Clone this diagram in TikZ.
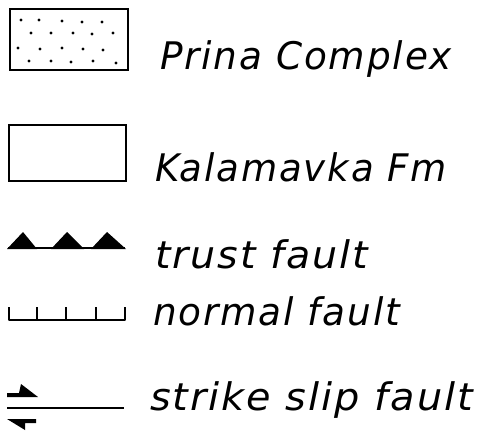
\documentclass[tikz,border=0pt]{standalone}
\usepackage{fontspec}
\usepackage{graphicx}
\setmainfont{DejaVu Sans}[LetterSpace=5]
\newcommand{\legtext}[2]{\resizebox{#1pt}{\height}{\fontsize{38}{40}\selectfont\itshape #2}}
\tikzset{
  frame/.style={draw, line width=1.9pt},
  fault/.style={line width=2pt},
  label/.style={anchor=base west, inner sep=0pt, outer sep=0pt},
  grain/.style={fill, circle, inner sep=0pt, minimum size=3.3pt}
}
\begin{document}
\begin{tikzpicture}[x=1pt, y=-1pt]
\useasboundingbox (0,0) rectangle (486,430);

% Prina Complex: dotted box
\draw[frame] (10,9) rectangle (128,70);
\foreach \px/\py in {21/20, 39/20, 62/21, 82/22, 102/22,
                     31/33, 51/33, 73/33, 92/34, 113/33,
                     18/48, 40/49, 62/48, 83/49, 103/50,
                     29/61, 51/61, 71/62, 93/61, 116/63}
  \node[grain] at (\px,\py) {};
\node[label] (prina) at (160,70) {\legtext{292}{Prina Complex}};

% Kalamavka Fm: empty box
\draw[frame] (9,125) rectangle (126,181);
\node[label] (kalam) at (155,182) {\legtext{292}{Kalamavka Fm}};

% thrust fault: line with teeth
\draw[fault] (8,248) -- (125,248);
\fill (7,249) -- (23,232) -- (37,249) -- cycle;
\fill (51,249) -- (67,232) -- (84,249) -- cycle;
\fill (91,249) -- (107,232) -- (126,249) -- cycle;
\node[label] (trust) at (155,268) {\legtext{213}{trust fault}};

% normal fault: line with ticks
\draw[fault, line join=round] (9,307) -- (9,320) -- (125,320) -- (125,307);
\foreach \tx in {37,66,96}
  \draw[fault] (\tx,320) -- (\tx,307);
\node[label] (normal) at (153,325) {\legtext{247}{normal fault}};

% strike slip fault: line with half arrows
\draw[fault] (7,408) -- (124,408);
\fill (7,393) -- (19,393) -- (21,384) -- (38,397) -- (7,397) -- cycle;
\fill (7,419) -- (36,419) -- (36,423) -- (25,423) -- (25,430) -- cycle;
\node[label] (strike) at (150,410) {\legtext{323}{strike slip fault}};
\end{tikzpicture}
\end{document}
